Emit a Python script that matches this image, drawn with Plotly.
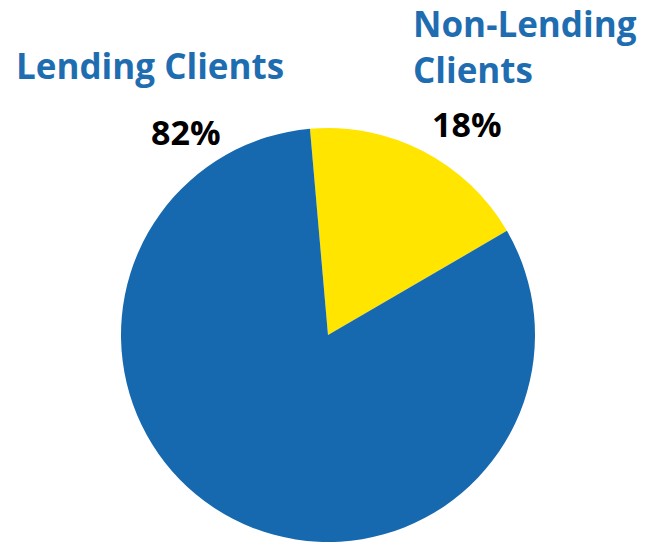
import plotly.graph_objects as go

# Client mix
categories = ["Non-Lending Clients", "Lending Clients"]
shares = [18, 82]
slice_colors = ["#FFE500", "#1769AF"]

W, H = 646, 547


def px(x, y):
    """Convert pixel position (from top-left) to paper coordinates."""
    return x / W, 1 - y / H


fig = go.Figure(
    go.Pie(
        labels=categories,
        values=shares,
        marker=dict(colors=slice_colors, line=dict(width=0)),
        sort=False,
        direction="clockwise",
        rotation=-5,
        textinfo="none",
        hoverinfo="label+percent",
        showlegend=False,
        domain=dict(x=[121 / W, 535 / W], y=[5 / H, 419 / H]),
    )
)

label_font = dict(family="Open Sans", size=35, color="#1F6DB1", weight="bold")
pct_font = dict(family="Open Sans", size=34, color="#000000", weight="bold")

annotations = []
# category labels
x, y = px(150, 65)
annotations.append(dict(x=x, y=y, text="Lending Clients", font=label_font,
                        xanchor="center", yanchor="middle"))
x, y = px(411, 47)
annotations.append(dict(x=x, y=y, text="Non-Lending<br>Clients", font=label_font,
                        xanchor="left", yanchor="middle", align="left"))
# percentage labels
for cat, val in zip(categories, shares):
    pos = (186, 132) if cat == "Lending Clients" else (467, 124)
    x, y = px(*pos)
    annotations.append(dict(x=x, y=y, text=f"{val}%", font=pct_font,
                            xanchor="center", yanchor="middle"))

for a in annotations:
    a.update(xref="paper", yref="paper", showarrow=False)

fig.update_layout(
    width=W,
    height=H,
    margin=dict(l=0, r=0, t=0, b=0),
    paper_bgcolor="white",
    plot_bgcolor="white",
    annotations=annotations,
)

fig.write_html("out.html")
